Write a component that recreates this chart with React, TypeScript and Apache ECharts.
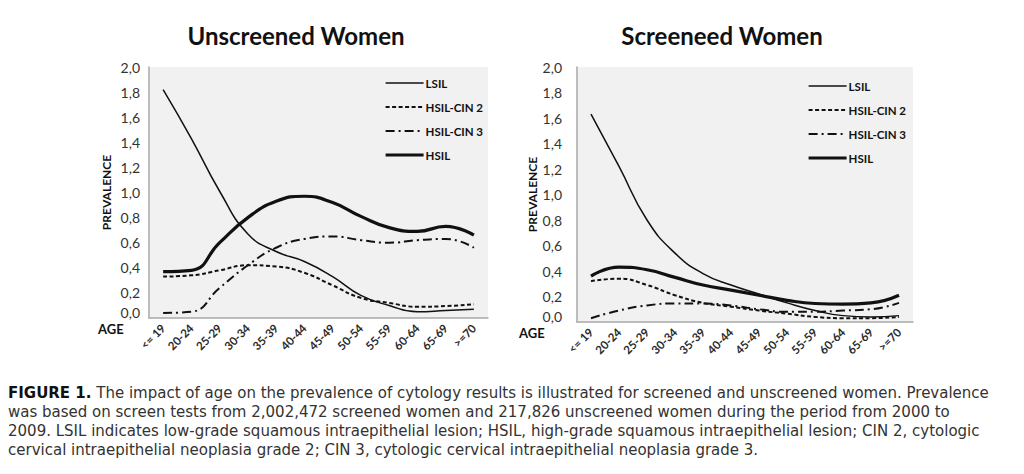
import React, { useEffect, useRef } from "react";
import * as echarts from "echarts";

const ageGroups = ["<= 19", "20-24", "25-29", "30-34", "35-39", "40-44", "45-49", "50-54", "55-59", "60-64", "65-69", ">=70"];
const seriesNames = ["LSIL", "HSIL-CIN 2", "HSIL-CIN 3", "HSIL"];

// Unscreened women
const lsilUnscreened = [1.82, 1.43, 1.01, 0.67, 0.53, 0.45, 0.33, 0.18, 0.10, 0.05, 0.06, 0.07];
const cin2Unscreened = [0.33, 0.34, 0.38, 0.42, 0.41, 0.36, 0.26, 0.16, 0.12, 0.09, 0.095, 0.11];
const cin3Unscreened = [0.04, 0.05, 0.24, 0.42, 0.56, 0.63, 0.65, 0.62, 0.60, 0.62, 0.63, 0.56];
const hsilUnscreened = [0.37, 0.38, 0.60, 0.80, 0.93, 0.97, 0.92, 0.81, 0.72, 0.69, 0.73, 0.66];

// Screened women
const lsilScreened = [1.63, 1.22, 0.80, 0.54, 0.38, 0.29, 0.22, 0.15, 0.09, 0.05, 0.04, 0.05];
const cin2Screened = [0.32, 0.34, 0.29, 0.21, 0.15, 0.12, 0.09, 0.065, 0.04, 0.03, 0.03, 0.04];
const cin3Screened = [0.03, 0.09, 0.13, 0.145, 0.145, 0.13, 0.10, 0.08, 0.08, 0.09, 0.10, 0.15];
const hsilScreened = [0.36, 0.43, 0.41, 0.35, 0.29, 0.25, 0.21, 0.17, 0.145, 0.14, 0.15, 0.21];

const titles = ["Unscreened Women", "Screeneed Women"];
const yAxisName = "PREVALENCE";
const xAxisName = "AGE";
const captionLines = [
  "The impact of age on the prevalence of cytology results is illustrated for screened and unscreened women. Prevalence",
  "was based on screen tests from 2,002,472 screened women and 217,826 unscreened women during the period from 2000 to",
  "2009. LSIL indicates low-grade squamous intraepithelial lesion; HSIL, high-grade squamous intraepithelial lesion; CIN 2, cytologic",
  "cervical intraepithelial neoplasia grade 2; CIN 3, cytologic cervical intraepithelial neoplasia grade 3.",
];
const captionLabel = "FIGURE 1.";

const FONT = "Lato, 'Open Sans', sans-serif";
const CAPFONT = "'DejaVu Sans', 'Open Sans', sans-serif";
const INK = "#111";

const lineStyles: any[] = [
  { color: INK, width: 1.5, type: "solid" },
  { color: INK, width: 2, type: [4, 2.5] },
  { color: INK, width: 2, type: [9, 4, 2, 4] },
  { color: INK, width: 3.2, type: "solid" },
];

export default function App() {
  const ref = useRef<HTMLDivElement>(null);
  useEffect(() => {
    if (!ref.current) return;
    const chart = echarts.init(ref.current, null, { renderer: "svg" });
    const grids = [
      { left: 149, top: 67, width: 339, height: 251 },
      { left: 577, top: 67, width: 336, height: 255 },
    ];
    const dataSets = [
      [lsilUnscreened, cin2Unscreened, cin3Unscreened, hsilUnscreened],
      [lsilScreened, cin2Screened, cin3Screened, hsilScreened],
    ];
    const series: any[] = [];
    dataSets.forEach((set, gi) => {
      set.forEach((d, si) => {
        series.push({
          type: "line",
          name: seriesNames[si],
          xAxisIndex: gi,
          yAxisIndex: gi,
          data: d,
          smooth: 0.5,
          symbol: "none",
          showSymbol: false,
          lineStyle: lineStyles[si],
          itemStyle: { color: INK },
          z: si === 3 ? 4 : 3,
        });
      });
    });
    const xAxes = grids.map((_, gi) => ({
      type: "category",
      gridIndex: gi,
      data: ageGroups,
      boundaryGap: true,
      axisLine: { show: true, lineStyle: { color: "#a8a8a8", width: 1.5 } },
      axisTick: { show: false },
      axisLabel: {
        rotate: 45,
        interval: 0,
        margin: 8,
        fontSize: 11.5,
        fontFamily: FONT,
        fontWeight: "bold",
        color: "#2a2a2a",
      },
    }));
    const yAxes = grids.map((_, gi) => ({
      type: "value",
      gridIndex: gi,
      min: 0,
      max: 2,
      interval: 0.2,
      name: yAxisName,
      nameLocation: "middle",
      nameRotate: 90,
      nameGap: gi === 0 ? 37 : 36,
      nameTextStyle: { fontFamily: FONT, fontWeight: "bold", fontSize: 12, color: INK },
      axisLine: { show: true, lineStyle: { color: "#a8a8a8", width: 1.5 } },
      axisTick: { show: false },
      splitLine: { show: false },
      axisLabel: {
        margin: gi === 0 ? 9 : 15,
        fontSize: 14,
        fontFamily: FONT,
        color: "#333",
        formatter: (v: number) => {
          const s = v.toFixed(1).replace(".", ",");
          return v === 0 ? `{z|${s}}` : s;
        },
        rich: {
          z: { fontSize: 14, fontFamily: FONT, color: "#333", padding: [0, 0, 12, 0] },
        },
      },
    }));
    const legendBase = {
      orient: "vertical",
      itemGap: 12,
      itemWidth: 38,
      itemHeight: 14,
      data: seriesNames,
      itemStyle: { opacity: 0 },
      lineStyle: { width: "inherit", type: "inherit" },
      textStyle: { fontFamily: FONT, fontWeight: "bold", fontSize: 11.5, color: INK, padding: [0, 0, 0, -3] },
      selectedMode: false,
    };
    const option: any = {
      animation: false,
      backgroundColor: "#ffffff",
      title: [
        {
          text: titles[0],
          left: 291,
          top: 18,
          textAlign: "center",
          textStyle: { fontFamily: FONT, fontWeight: "bold", fontSize: 24, color: INK },
        },
        {
          text: titles[1],
          left: 717,
          top: 18,
          textAlign: "center",
          textStyle: { fontFamily: FONT, fontWeight: "bold", fontSize: 24, color: INK },
        },
      ],
      grid: grids.map((g) => ({
        ...g,
        show: true,
        backgroundColor: "#f1f1f1",
        borderWidth: 0,
        containLabel: false,
      })),
      legend: [
        { ...legendBase, left: 379, top: 72 },
        { ...legendBase, left: 802, top: 75 },
      ],
      xAxis: xAxes,
      yAxis: yAxes,
      series,
      graphic: [
        {
          type: "text",
          left: 98,
          top: 322,
          style: { text: xAxisName, fontFamily: FONT, fontWeight: "bold", fontSize: 13, fill: INK },
        },
        {
          type: "text",
          left: 519,
          top: 326,
          style: { text: xAxisName, fontFamily: FONT, fontWeight: "bold", fontSize: 13, fill: INK },
        },
        ...captionLines.map((line, i) => ({
          type: "text",
          left: 8,
          top: 384 + i * 19,
          style: {
            text: i === 0 ? `{b|${captionLabel}} ${line}` : line,
            fontFamily: CAPFONT,
            fontSize: 15,
            lineHeight: 17.5,
            fill: "#333",
            rich: {
              b: { fontFamily: CAPFONT, fontSize: 15, lineHeight: 17.5, fontWeight: "bold", fill: "#111" },
            },
          },
        })),
      ],
    };
    chart.setOption(option);
    return () => chart.dispose();
  }, []);
  return (
    <div
      ref={ref}
      style={{ position: "fixed", left: 0, top: 0, width: 1024, height: 474, background: "#fff" }}
    />
  );
}
